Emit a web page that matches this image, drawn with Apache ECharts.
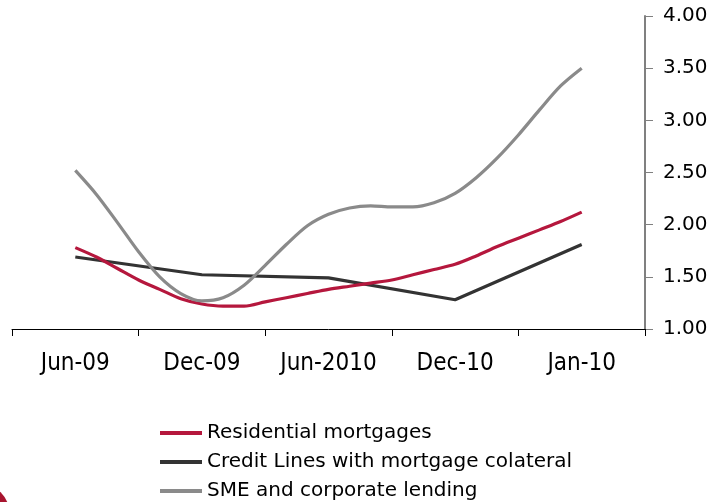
<!DOCTYPE html>
<html>
<head>
<meta charset="utf-8">
<title>Lending rates</title>
<script src="https://cdn.jsdelivr.net/npm/echarts@6/dist/echarts.min.js"></script>
<style>
  html, body { margin: 0; padding: 0; background: #ffffff; }
  #chart { width: 713px; height: 502px; }
</style>
</head>
<body>
<div id="chart"></div>
<script>
// Half-year period labels shown on the axis
var periods = ['Jun-09', 'Dec-09', 'Jun-2010', 'Dec-10', 'Jan-10'];

// Month offsets from the first period (monthly observations)
var months = [0, 1, 2, 3, 4, 5, 6, 7, 8, 9, 10, 11, 12, 13, 14, 15, 16, 17, 18, 19, 20, 21, 22, 23, 24];

// Residential mortgages, monthly
var residential = [1.78, 1.69, 1.58, 1.47, 1.38, 1.29, 1.24, 1.22, 1.22, 1.26, 1.30, 1.34, 1.38,
                   1.41, 1.44, 1.47, 1.52, 1.57, 1.62, 1.70, 1.79, 1.87, 1.95, 2.03, 2.12];

// SME and corporate lending, monthly
var sme = [2.52, 2.29, 2.02, 1.74, 1.50, 1.34, 1.27, 1.30, 1.42, 1.61, 1.81, 1.99, 2.10,
           2.16, 2.18, 2.17, 2.17, 2.21, 2.30, 2.45, 2.64, 2.86, 3.10, 3.33, 3.50];

// Credit lines with mortgage collateral, half-yearly
var creditMonths = [0, 6, 12, 18, 24];
var creditLines = [1.69, 1.52, 1.49, 1.28, 1.81];

// Value-axis ticks
var yMin = 1.0, yMax = 4.0, yStep = 0.5;

function pairs(xs, ys) {
  return xs.map(function (x, i) { return [x, ys[i]]; });
}

var chart = echarts.init(document.getElementById('chart'), null, { renderer: 'canvas' });

chart.setOption({
  animation: false,
  backgroundColor: '#ffffff',
  grid: { left: 12, right: 68, top: 16, bottom: 173, containLabel: false },
  legend: {
    orient: 'vertical',
    left: 155,
    top: 417,
    height: 120,
    itemWidth: 42,
    itemHeight: 4,
    itemGap: 7,
    icon: 'rect',
    data: ['Residential mortgages', 'Credit Lines with mortgage colateral', 'SME and corporate lending'],
    textStyle: { fontFamily: 'DejaVu Sans', fontSize: 20, color: '#000000', lineHeight: 22 }
  },
  xAxis: [
    {
      type: 'category',
      data: periods,
      boundaryGap: true,
      axisLine: { show: true, lineStyle: { color: '#000000', width: 1 } },
      axisTick: { show: true, inside: false, length: 7, lineStyle: { color: '#000000', width: 1 } },
      axisLabel: {
        interval: 0,
        margin: 23,
        color: '#000000',
        fontFamily: 'Liberation Sans Narrow, DejaVu Sans Condensed, sans-serif',
        fontSize: 24
      },
      splitLine: { show: false }
    },
    {
      type: 'value',
      min: -3,
      max: 27,
      show: false
    }
  ],
  yAxis: {
    type: 'value',
    position: 'right',
    min: yMin,
    max: yMax,
    interval: yStep,
    axisLine: { show: true, onZero: false, lineStyle: { color: '#808080', width: 2 } },
    axisTick: { show: true, inside: false, length: 8, lineStyle: { color: '#808080', width: 1 } },
    axisLabel: {
      margin: 18,
      color: '#000000',
      fontFamily: 'DejaVu Sans',
      fontSize: 20,
      formatter: function (v) { return v.toFixed(2); }
    },
    splitLine: { show: false }
  },
  series: [
    {
      name: 'Credit Lines with mortgage colateral',
      type: 'line',
      xAxisIndex: 1,
      data: pairs(creditMonths, creditLines),
      showSymbol: false,
      smooth: false,
      lineStyle: { color: '#333333', width: 3.2 },
      itemStyle: { color: '#333333' }
    },
    {
      name: 'Residential mortgages',
      type: 'line',
      xAxisIndex: 1,
      data: pairs(months, residential),
      showSymbol: false,
      smooth: 0.3,
      lineStyle: { color: '#B5173D', width: 3.2 },
      itemStyle: { color: '#B5173D' }
    },
    {
      name: 'SME and corporate lending',
      type: 'line',
      xAxisIndex: 1,
      data: pairs(months, sme),
      showSymbol: false,
      smooth: 0.3,
      lineStyle: { color: '#8A8A8A', width: 3.2 },
      itemStyle: { color: '#8A8A8A' }
    }
  ],
  graphic: [
    {
      type: 'circle',
      shape: { cx: -22, cy: 515, r: 32 },
      style: { fill: '#A8142F' },
      silent: true
    }
  ]
});
</script>
</body>
</html>
